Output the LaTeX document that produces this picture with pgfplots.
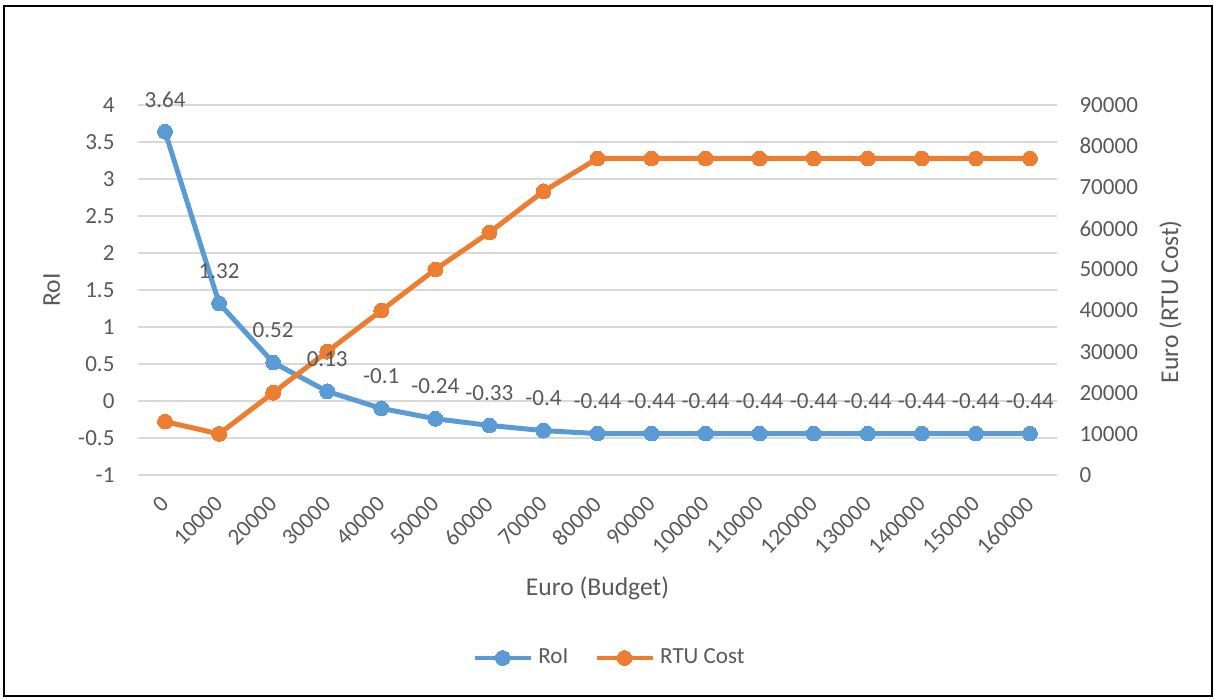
\documentclass[border=0pt]{standalone}
\usepackage{pgfplots}
\usepackage{pgfplotstable}
\pgfplotsset{compat=1.18}
\usepackage{fontspec}
\setmainfont{Carlito}
\definecolor{rblue}{HTML}{5B9BD5}
\definecolor{rorange}{HTML}{ED7D31}
\definecolor{txt}{HTML}{595959}
\definecolor{gridc}{HTML}{D9D9D9}

\pgfplotstableread{
x roi lab
0 3.64 3.64
10000 1.32 1.32
20000 0.52 0.52
30000 0.13 0.13
40000 -0.1 -0.1
50000 -0.24 -0.24
60000 -0.33 -0.33
70000 -0.4 -0.4
80000 -0.44 -0.44
90000 -0.44 -0.44
100000 -0.44 -0.44
110000 -0.44 -0.44
120000 -0.44 -0.44
130000 -0.44 -0.44
140000 -0.44 -0.44
150000 -0.44 -0.44
160000 -0.44 -0.44
}\roidata

\pgfplotstableread{
x cost
0 13000
10000 10000
20000 20000
30000 30000
40000 40000
50000 50000
60000 59000
70000 69000
80000 77000
90000 77000
100000 77000
110000 77000
120000 77000
130000 77000
140000 77000
150000 77000
160000 77000
}\costdata

\pgfplotsset{
  base/.style={
    scale only axis, width=358.98pt, height=144.53pt,
    at={(53.91pt,87.11pt)}, anchor=south west,
    xmin=-5000, xmax=165000,
    scaled x ticks=false,
    axis line style={draw=none},
    major tick length=0pt, tick style={draw=none},
    ticklabel style={font=\fontsize{9}{10.8}\selectfont, text=txt, inner sep=0pt},
    label style={font=\fontsize{10}{12}\selectfont, text=txt},
    /pgf/number format/assume math mode=true,
  },
  ser/.style={line width=1.95pt, line join=round, color=#1, mark=*, mark size=2.9pt,
    mark options={solid, fill=#1, draw=#1, line width=0pt}},
}

\begin{document}
\begin{tikzpicture}
\useasboundingbox (0,0) rectangle (474.22pt,272.66pt);
\draw[line width=0.8pt, black] (1.56pt,0.78pt) rectangle (473.4pt,270.3pt);

% primary axis
\begin{axis}[base,
  axis y line*=left, axis x line*=bottom,
  ymin=-1, ymax=4,
  ytick={-1,-0.5,0,0.5,1,1.5,2,2.5,3,3.5,4},
  yticklabel style={xshift=-9pt, /pgf/number format/fixed},
  ymajorgrids, grid style={gridc, line width=0.6pt},
  xtick={0,10000,20000,30000,40000,50000,60000,70000,80000,90000,100000,110000,120000,130000,140000,150000,160000},
  xticklabels={0,10000,20000,30000,40000,50000,60000,70000,80000,90000,100000,110000,120000,130000,140000,150000,160000},
  xticklabel style={yshift=-9.8pt, rotate=45, anchor=east},
  xlabel={Euro (Budget)},
  xlabel style={at={(axis description cs:0.5,-0.3245)}, anchor=base},
  ylabel={RoI},
  ylabel style={at={(axis description cs:-0.085,0.5)}, anchor=base},
]
\addplot[ser=rblue] table[x=x, y=roi] {\roidata};
\end{axis}

% secondary axis
\begin{axis}[base,
  axis y line*=right, axis x line=none,
  ymin=0, ymax=90000,
  ytick={0,10000,20000,30000,40000,50000,60000,70000,80000,90000},
  scaled y ticks=false,
  yticklabel style={xshift=8.6pt, /pgf/number format/fixed, /pgf/number format/1000 sep={}},
  ylabel={Euro (RTU Cost)},
  ylabel style={at={(axis description cs:1.1317,0.468)}, anchor=base},
  legend columns=2,
  legend style={draw=none, fill=none, at={(0.5147,-0.4946)}, anchor=center,
    font=\fontsize{9}{10.8}\selectfont, text=txt,
    /tikz/every even column/.append style={column sep=8pt}},
  legend image code/.code={\draw[mark repeat=2, mark phase=2, #1] plot coordinates {(0pt,0pt) (10.95pt,0pt) (21.9pt,0pt)};},
]
\addlegendimage{ser=rblue}
\addlegendentry{RoI}
\addplot[ser=rorange] table[x=x, y=cost] {\costdata};
\addlegendentry{RTU Cost}
\end{axis}

% data labels on top
\begin{axis}[base, hide axis, clip=false,
  ymin=-1, ymax=4,
]
\addplot[draw=none, mark=none, nodes near coords, point meta=explicit symbolic,
  every node near coord/.append style={anchor=center, yshift=12.6pt, inner sep=0pt,
    font=\fontsize{9}{10.8}\selectfont, text=txt}]
  table[x=x, y=roi, meta=lab] {\roidata};
\end{axis}
\end{tikzpicture}
\end{document}
